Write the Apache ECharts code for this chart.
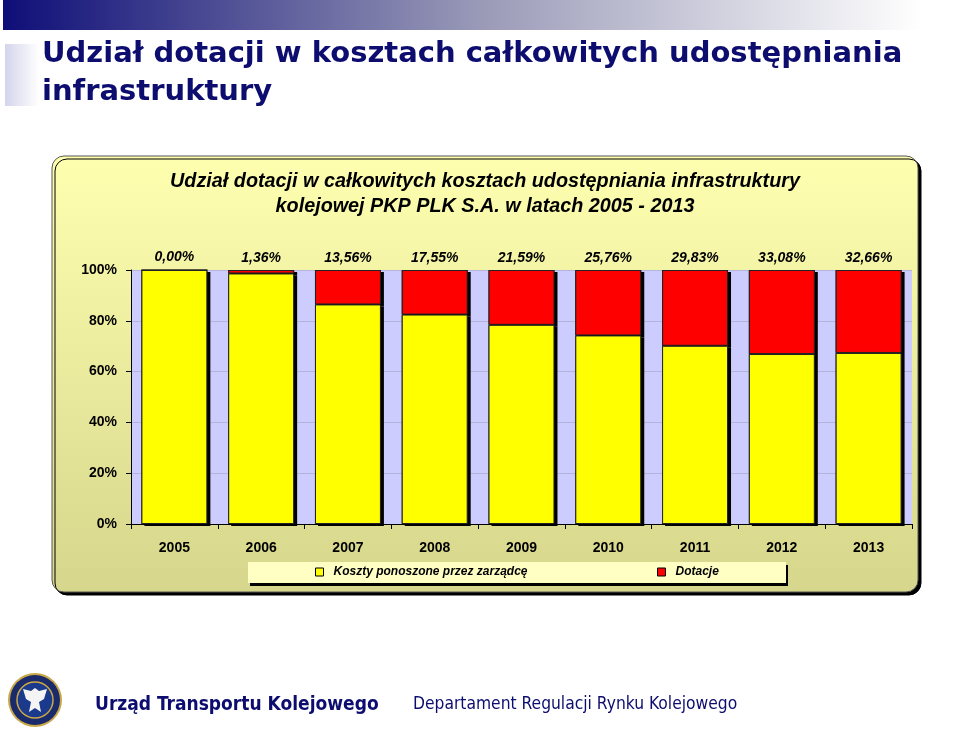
<!DOCTYPE html>
<html>
<head>
<meta charset="utf-8">
<script src="https://cdn.jsdelivr.net/npm/echarts@6/dist/echarts.min.js"></script>
<style>html,body{margin:0;padding:0;background:#fff;}#c{width:960px;height:732px;}</style>
</head>
<body>
<div id="c"></div>
<script>
const years = ['2005','2006','2007','2008','2009','2010','2011','2012','2013'];
const koszty = [100, 98.64, 86.44, 82.45, 78.41, 74.24, 70.17, 66.92, 67.34];
const dotacje = [0, 1.36, 13.56, 17.55, 21.59, 25.76, 29.83, 33.08, 32.66];
const yTicks = [0, 20, 40, 60, 80, 100];
const seriesNames = ['Koszty ponoszone przez zarządcę', 'Dotacje'];
const slideTitle = ['Udział dotacji w kosztach całkowitych udostępniania', 'infrastruktury'];
const chartTitle = 'Udział dotacji w całkowitych kosztach udostępniania infrastruktury\nkolejowej PKP PLK S.A. w latach 2005 - 2013';
const footerMain = 'Urząd Transportu Kolejowego';
const footerDept = 'Departament Regulacji Rynku Kolejowego';

const navy = '#0d0d70';
const AR = '"Liberation Sans", Arial, sans-serif';
const fmt = v => v.toFixed(2).replace('.', ',') + '%';
const shadowStyle = {color: '#000', borderWidth: 0, shadowColor: '#000', shadowOffsetX: 3, shadowOffsetY: 2, shadowBlur: 0};
const barStyle = c => ({color: c, borderColor: '#222', borderWidth: 1});
const legendText = {fontStyle: 'italic', fontWeight: 'bold', fontSize: 12, color: '#000', fontFamily: AR, padding: [0, 0, 0, 5]};

const chart = echarts.init(document.getElementById('c'), null, {renderer: 'canvas'});
chart.setOption({
  animation: false,
  graphic: [
    {type: 'rect', z: -20, shape: {x: 3, y: 0, width: 957, height: 30},
     style: {fill: new echarts.graphic.LinearGradient(0, 0, 1, 0, [
       {offset: 0, color: '#0e0e78'}, {offset: 0.5, color: '#9a9ab8'}, {offset: 0.96, color: '#ffffff'}])}},
    {type: 'rect', z: -20, shape: {x: 5, y: 44, width: 34, height: 62},
     style: {fill: new echarts.graphic.LinearGradient(0, 0, 1, 0, [
       {offset: 0, color: '#d4d4ec'}, {offset: 1, color: '#ffffff'}])}},
    {type: 'text', z: 5, style: {x: 42, y: 40, text: slideTitle[0], fill: navy,
      font: 'bold 29px "DejaVu Sans", sans-serif'}},
    {type: 'text', z: 5, style: {x: 42, y: 78, text: slideTitle[1], fill: navy,
      font: 'bold 29px "DejaVu Sans", sans-serif'}},
    {type: 'rect', z: -10, shape: {x: 52, y: 156, width: 866, height: 436, r: 12},
     style: {fill: new echarts.graphic.LinearGradient(0, 0, 0, 1, [
       {offset: 0, color: '#ffffb0'}, {offset: 1, color: '#d6d68c'}]),
       stroke: '#555', lineWidth: 1, shadowColor: '#000', shadowOffsetX: 3, shadowOffsetY: 3, shadowBlur: 0}},
    {type: 'text', z: 5, style: {x: 485, y: 169, text: chartTitle, fill: '#000', align: 'center',
      lineHeight: 25, font: 'italic bold 19.8px "Liberation Sans", Arial, sans-serif'}},
    {type: 'rect', z: -5, shape: {x: 248, y: 562, width: 538, height: 21},
     style: {fill: '#ffffc4', shadowColor: '#000', shadowOffsetX: 2, shadowOffsetY: 3, shadowBlur: 0}},
    {type: 'circle', z: 5, shape: {cx: 35, cy: 700, r: 27}, style: {fill: '#c8a848'}},
    {type: 'circle', z: 5, shape: {cx: 35, cy: 700, r: 25}, style: {fill: '#1a2a6a'}},
    {type: 'circle', z: 5, shape: {cx: 35, cy: 700, r: 18}, style: {fill: '#1c3a8c', stroke: '#c8a848', lineWidth: 1.5}},
    {type: 'polygon', z: 6, shape: {points: [[35,688],[39,691],[47,689],[44,699],[39,702],[41,712],[35,708],[29,712],[31,702],[26,699],[23,689],[31,691]]},
     style: {fill: '#f4f4f4'}},
    {type: 'text', z: 5, style: {x: 95, y: 705, text: footerMain, fill: navy, verticalAlign: 'middle',
      font: 'bold 19px "DejaVu Sans Condensed", "DejaVu Sans", sans-serif'}},
    {type: 'text', z: 5, style: {x: 413, y: 705, text: footerDept, fill: navy, verticalAlign: 'middle',
      font: '17.3px "DejaVu Sans Condensed", "DejaVu Sans", sans-serif'}}
  ],
  grid: {left: 131, right: 48, top: 270, bottom: 208, show: true, backgroundColor: '#ccccff', borderWidth: 0},
  legend: [
    {data: [seriesNames[0]], icon: 'rect', left: 315, top: 566, padding: 0, itemWidth: 8, itemHeight: 8,
     itemStyle: {borderColor: '#000', borderWidth: 1}, textStyle: legendText},
    {data: [seriesNames[1]], icon: 'rect', left: 657, top: 566, padding: 0, itemWidth: 8, itemHeight: 8,
     itemStyle: {borderColor: '#000', borderWidth: 1}, textStyle: legendText}
  ],
  xAxis: {
    type: 'category', data: years,
    axisLine: {lineStyle: {color: '#000', width: 1}},
    axisTick: {show: true, length: 5, lineStyle: {color: '#000'}},
    axisLabel: {margin: 17, color: '#000', fontWeight: 'bold', fontSize: 14, fontFamily: AR}
  },
  yAxis: {
    type: 'value', min: yTicks[0], max: yTicks[yTicks.length - 1], interval: yTicks[1] - yTicks[0],
    axisLine: {show: true, lineStyle: {color: '#000', width: 1}},
    axisTick: {show: true, length: 5, lineStyle: {color: '#000'}},
    axisLabel: {margin: 14, formatter: '{value}%', color: '#000', fontWeight: 'bold', fontSize: 14, fontFamily: AR},
    splitLine: {lineStyle: {color: '#b4b4da', width: 1}}
  },
  series: [
    {name: 'cien1', type: 'bar', stack: 'sh', data: koszty, barWidth: '76%', silent: true, itemStyle: shadowStyle, z: 1},
    {name: 'cien2', type: 'bar', stack: 'sh', data: dotacje, barWidth: '76%', silent: true, itemStyle: shadowStyle, z: 1},
    {name: seriesNames[0], type: 'bar', stack: 's', data: koszty, barWidth: '76%', barGap: '-100%', itemStyle: barStyle('#ffff00'), z: 3},
    {name: seriesNames[1], type: 'bar', stack: 's', data: dotacje, barWidth: '76%', barGap: '-100%', itemStyle: barStyle('#ff0000'), z: 3,
     label: {show: true, position: 'top', distance: 5, formatter: p => fmt(dotacje[p.dataIndex]),
       color: '#000', fontStyle: 'italic', fontWeight: 'bold', fontSize: 14, fontFamily: AR}}
  ]
});
</script>
</body>
</html>
